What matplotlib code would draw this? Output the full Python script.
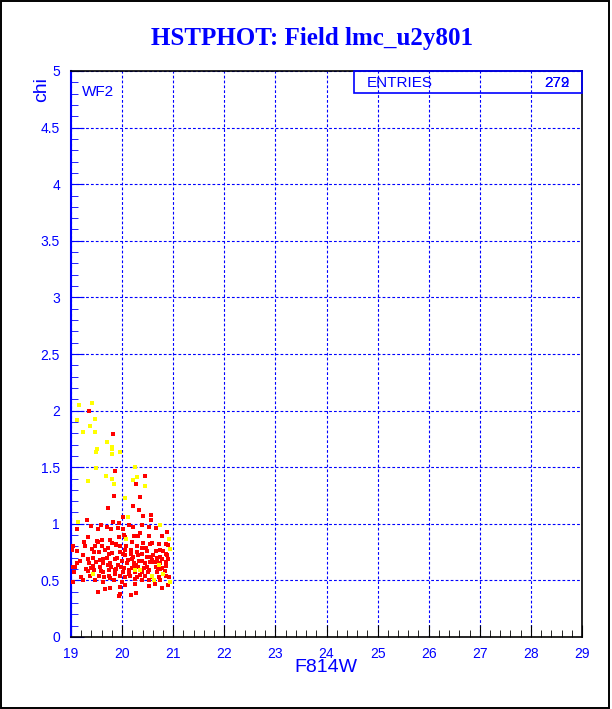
import matplotlib
matplotlib.use("Agg")
import matplotlib.pyplot as plt
from matplotlib.ticker import MultipleLocator
from matplotlib.patches import Rectangle

title = "HSTPHOT: Field lmc_u2y801"
x_label = "F814W"
y_label = "chi"
panel_label = "WF2"
stat_label = "ENTRIES"
stat_values = ["272", "279"]

# yellow points (F814W, chi)
yel_x = [19.15, 19.41, 19.11, 19.46, 19.38, 19.23, 19.46, 19.70, 19.80, 19.80, 19.50, 19.48,
         19.96, 19.80, 20.25, 19.48, 19.68, 19.80, 20.21, 20.29, 19.85, 20.44, 19.33, 20.05,
         20.12, 19.14, 20.75, 20.08, 20.91, 20.94, 20.72, 20.26, 20.35, 19.44, 20.59, 20.81,
         20.94, 20.62]
yel_y = [2.05, 2.07, 1.92, 1.93, 1.86, 1.81, 1.81, 1.72, 1.68, 1.66, 1.66, 1.63,
         1.63, 1.62, 1.50, 1.49, 1.42, 1.40, 1.39, 1.41, 1.35, 1.33, 1.38, 1.23,
         1.06, 1.02, 0.99, 0.87, 0.87, 0.78, 0.64, 0.59, 0.59, 0.56, 0.54, 0.56,
         0.49, 0.50]

# red points (F814W, chi)
red_x = [19.35, 19.82, 19.87, 20.44, 20.27, 19.84, 20.36, 19.72, 20.21, 20.34, 19.31, 20.56,
         20.40, 20.01, 20.56, 19.83, 19.93, 19.40, 19.58, 19.71, 20.13, 20.38, 20.75, 20.01,
         19.53, 19.79, 19.91, 20.21, 20.53, 20.66, 20.87, 19.11, 20.04, 20.23, 20.35, 19.33,
         20.53, 20.78, 19.93, 19.50, 19.76, 19.52, 19.89, 20.19, 19.61, 19.88, 20.40, 20.59,
         20.73, 20.86, 19.03, 19.27, 19.72, 20.30, 20.55, 20.74, 19.42, 20.05, 20.18, 20.38,
         20.89, 19.11, 19.55, 19.74, 20.18, 20.29, 20.39, 20.49, 20.66, 20.85, 19.24, 19.45,
         19.80, 20.06, 20.19, 20.32, 20.61, 20.74, 20.87, 19.33, 19.62, 19.87, 20.00, 20.09,
         20.23, 20.38, 20.59, 20.69, 20.78, 20.86, 19.12, 19.35, 19.48, 19.76, 19.92, 20.10,
         20.27, 20.44, 20.55, 19.07, 19.44, 19.57, 19.63, 19.78, 19.89, 20.04, 20.19, 20.32,
         20.49, 20.66, 20.78, 20.86, 19.05, 19.33, 19.45, 19.63, 19.75, 19.87, 20.02, 20.13,
         20.25, 20.39, 20.53, 20.68, 20.74, 19.19, 19.54, 19.65, 19.75, 19.96, 20.06, 20.15,
         20.30, 20.44, 20.59, 20.73, 20.86, 19.03, 19.23, 19.46, 19.62, 19.76, 19.85, 20.00,
         20.26, 20.38, 20.53, 20.74, 20.91, 19.52, 19.67, 19.76, 19.96, 20.06, 20.25, 20.52,
         20.65, 20.79, 20.89, 19.95, 19.93, 20.17, 20.27, 19.03, 19.02, 19.96, 19.80, 20.31,
         20.08, 20.48, 20.74, 19.60, 19.66, 19.70, 19.56, 19.40, 19.29, 19.38, 19.18, 19.25,
         19.47, 19.90, 19.98, 20.02, 20.12, 20.22, 20.33, 20.42, 20.46, 20.57, 20.63, 20.70,
         20.80, 20.83, 20.90, 20.14, 20.24, 19.86, 19.73, 19.58, 20.36, 20.50, 20.68, 19.44,
         19.95, 20.05]
red_y = [2.00, 1.79, 1.47, 1.42, 1.35, 1.25, 1.24, 1.14, 1.16, 1.12, 1.03, 1.08,
         1.07, 1.06, 1.03, 1.02, 1.01, 0.98, 0.99, 0.97, 0.99, 0.99, 0.99, 0.95,
         0.95, 0.95, 0.96, 0.97, 0.97, 0.96, 0.93, 0.95, 0.90, 0.89, 0.92, 0.88,
         0.89, 0.89, 0.88, 0.85, 0.86, 0.84, 0.82, 0.84, 0.80, 0.81, 0.83, 0.83,
         0.82, 0.82, 0.80, 0.80, 0.79, 0.80, 0.82, 0.77, 0.78, 0.77, 0.77, 0.79,
         0.81, 0.76, 0.75, 0.73, 0.73, 0.75, 0.73, 0.76, 0.76, 0.73, 0.72, 0.75,
         0.74, 0.72, 0.69, 0.72, 0.72, 0.71, 0.72, 0.69, 0.69, 0.69, 0.67, 0.65,
         0.65, 0.67, 0.68, 0.66, 0.69, 0.66, 0.65, 0.65, 0.66, 0.65, 0.64, 0.65,
         0.64, 0.65, 0.66, 0.62, 0.63, 0.62, 0.65, 0.62, 0.60, 0.61, 0.61, 0.62,
         0.62, 0.62, 0.61, 0.63, 0.57, 0.58, 0.59, 0.57, 0.59, 0.59, 0.57, 0.59,
         0.57, 0.57, 0.59, 0.57, 0.60, 0.53, 0.54, 0.53, 0.54, 0.54, 0.53, 0.54,
         0.53, 0.54, 0.53, 0.53, 0.54, 0.49, 0.50, 0.50, 0.49, 0.52, 0.50, 0.49,
         0.51, 0.50, 0.50, 0.50, 0.53, 0.40, 0.42, 0.43, 0.44, 0.46, 0.47, 0.45,
         0.47, 0.43, 0.46, 0.38, 0.36, 0.37, 0.39, 0.62, 0.77, 0.75, 0.83, 0.89,
         0.80, 0.71, 0.65, 0.86, 0.77, 0.70, 0.68, 0.61, 0.60, 0.54, 0.67, 0.84,
         0.80, 0.70, 0.62, 0.73, 0.68, 0.71, 0.67, 0.61, 0.79, 0.71, 0.66, 0.60,
         0.76, 0.58, 0.69, 0.56, 0.62, 0.56, 0.64, 0.58, 0.55, 0.57, 0.70, 0.70,
         0.80, 0.88]

x_range = (19, 29)
y_range = (0, 5)

BLUE = "#0000ff"
plt.rcParams["lines.scale_dashes"] = False

fig = plt.figure(figsize=(6.12, 7.09), dpi=100)
fig.patch.set_facecolor("white")
fig.add_artist(Rectangle((0.0015, 0.002), 0.994, 0.9965, transform=fig.transFigure,
                         fill=False, edgecolor="black", linewidth=1.4))

ax = fig.add_axes([71 / 612, 1 - 637 / 709, 511 / 612, 566 / 709])
ax.set_xlim(*x_range)
ax.set_ylim(*y_range)

ax.xaxis.set_major_locator(MultipleLocator(1))
ax.xaxis.set_minor_locator(MultipleLocator(0.2))
ax.yaxis.set_major_locator(MultipleLocator(0.5))
ax.yaxis.set_minor_locator(MultipleLocator(0.1))

ax.grid(True, which="major", color=BLUE, linestyle=(0, (2.0, 1.5)), linewidth=0.8)
ax.set_axisbelow(True)

ax.tick_params(axis="both", which="both", direction="in", labelcolor=BLUE,
               labelsize=10, top=False, right=False)
ax.tick_params(axis="x", which="major", length=9, color="black", pad=7)
ax.tick_params(axis="x", which="minor", length=5, color="black")
ax.tick_params(axis="y", which="major", length=9, color=BLUE, pad=8)
ax.tick_params(axis="y", which="minor", length=5, color=BLUE)
for lab in ax.get_xticklabels() + ax.get_yticklabels():
    lab.set_fontfamily("Liberation Sans")

def fmt(v, pos):
    return ("%g" % v)
ax.xaxis.set_major_formatter(plt.FuncFormatter(fmt))
ax.yaxis.set_major_formatter(plt.FuncFormatter(fmt))

for side in ["bottom", "top", "right"]:
    ax.spines[side].set_color("black")
    ax.spines[side].set_linewidth(1.2)
ax.spines["left"].set_color(BLUE)
ax.spines["left"].set_linewidth(1.5)

ax.scatter(red_x, red_y, marker="s", s=5.8, c="#ff0000", linewidths=0, zorder=3)
ax.scatter(yel_x, yel_y, marker="s", s=5.8, c="#ffff00", linewidths=0, zorder=3)

fig.text(0.51, 1 - 38 / 709, title, ha="center", va="center", color=BLUE,
         fontsize=18, fontweight="bold", family="Liberation Serif")
fig.text(326 / 612, 1 - 668 / 709, x_label, ha="center", va="center", color=BLUE,
         fontsize=14, family="Liberation Sans")
fig.text(42 / 612, 1 - 89 / 709, y_label, ha="center", va="center", color=BLUE,
         fontsize=14, family="Liberation Sans", rotation=90)
ax.text(0.022, 0.975, panel_label, transform=ax.transAxes, ha="left", va="top",
        color=BLUE, fontsize=11, family="Liberation Sans")

# entries box
box_left = (354 - 71) / 511
box_bottom = (637 - 93) / 566
ax.add_patch(Rectangle((box_left, box_bottom), 1 - box_left, 1 - box_bottom,
                       transform=ax.transAxes, fill=False, edgecolor=BLUE,
                       linewidth=1.2, clip_on=False, zorder=4))
ax.text((367 - 71) / 511, (637 - 83) / 566, stat_label, transform=ax.transAxes,
        ha="left", va="center", color=BLUE, fontsize=11, family="Liberation Sans")
for sv in stat_values:
    ax.text((570 - 71) / 511, (637 - 83) / 566, sv, transform=ax.transAxes,
            ha="right", va="center", color=BLUE, fontsize=11, family="Liberation Sans")

fig.savefig("out.png", dpi=100)
